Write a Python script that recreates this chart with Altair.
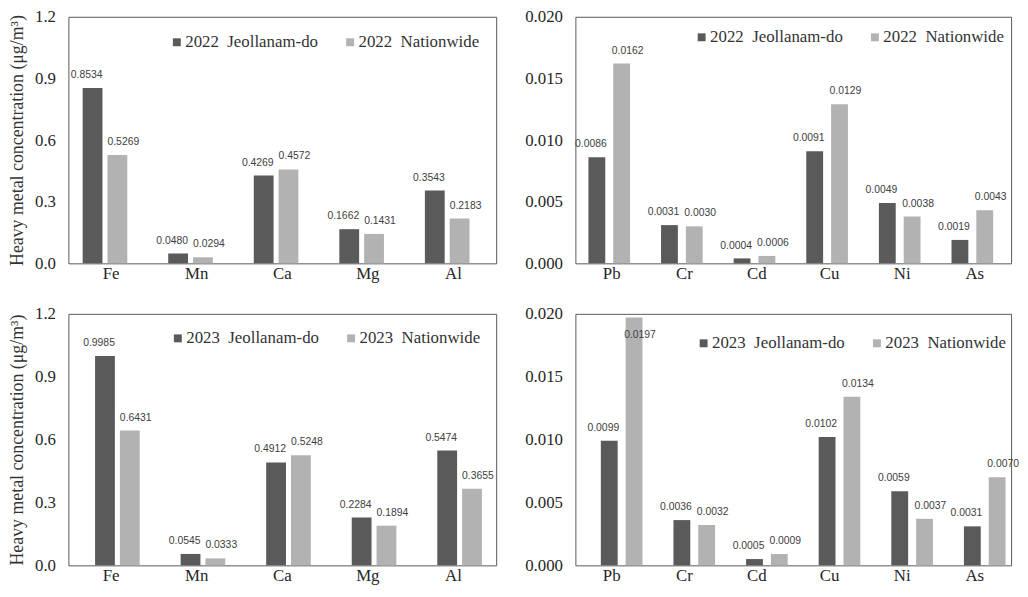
import altair as alt
import pandas as pd

# ---- data ----
major_metals = ["Fe", "Mn", "Ca", "Mg", "Al"]
trace_metals = ["Pb", "Cr", "Cd", "Cu", "Ni", "As"]

jeol_2022_major = [0.8534, 0.0480, 0.4269, 0.1662, 0.3543]
nat_2022_major = [0.5269, 0.0294, 0.4572, 0.1431, 0.2183]
jeol_2022_trace = [0.0086, 0.0031, 0.0004, 0.0091, 0.0049, 0.0019]
nat_2022_trace = [0.0162, 0.0030, 0.0006, 0.0129, 0.0038, 0.0043]

jeol_2023_major = [0.9985, 0.0545, 0.4912, 0.2284, 0.5474]
nat_2023_major = [0.6431, 0.0333, 0.5248, 0.1894, 0.3655]
jeol_2023_trace = [0.0099, 0.0036, 0.0005, 0.0102, 0.0059, 0.0031]
nat_2023_trace = [0.0197, 0.0032, 0.0009, 0.0134, 0.0037, 0.0070]

major_ticks = [0.0, 0.3, 0.6, 0.9, 1.2]
trace_ticks = [0.0, 0.005, 0.010, 0.015, 0.020]

y_title = "Heavy metal concentration (\u03bcg/m\u00b3)"

DARK = "#5a5a5a"
LIGHT = "#b2b2b2"
SERIF = "Liberation Serif"
SANS = "Liberation Sans"


def panel(cats, jeol, nat, year, ticks, fmt, width, height, bar_w, show_title, leg_x, leg_y):
    s1 = f"{year}\u00a0 Jeollanam-do"
    s2 = f"{year}\u00a0 Nationwide"
    n = len(cats)
    df = pd.DataFrame({
        "metal": cats * 2,
        "series": [s1] * n + [s2] * n,
        "grp": ["a"] * n + ["b"] * n,
        "value": jeol + nat,
    })
    ymax = ticks[-1]
    yscale = alt.Scale(domain=[0, ymax], nice=False)
    yaxis = alt.Axis(values=ticks, format=fmt)
    ytitle = y_title if show_title else None

    base = alt.Chart(df).encode(
        x=alt.X("metal:N", sort=cats, title=None,
                scale=alt.Scale(paddingInner=0.42, paddingOuter=0.21),
                axis=alt.Axis(labelAngle=0)),
        xOffset=alt.XOffset("series:N", sort=[s1, s2],
                            scale=alt.Scale(paddingInner=0, paddingOuter=0)),
    )

    bars = base.mark_bar(width=bar_w).encode(
        y=alt.Y("value:Q", scale=yscale, axis=yaxis, title=ytitle),
        color=alt.Color("series:N", sort=[s1, s2],
                        scale=alt.Scale(domain=[s1, s2], range=[DARK, LIGHT]),
                        legend=alt.Legend(orient="none", legendX=leg_x, legendY=leg_y,
                                          direction="horizontal", title=None,
                                          symbolType="square", symbolSize=64,
                                          symbolStrokeWidth=0,
                                          labelFont=SERIF, labelFontSize=17,
                                          labelColor="#333333", columnPadding=23,
                                          labelOffset=0)),
    )

    lab = base.transform_calculate(
        ly=f"datum.value > {0.95 * ymax} ? datum.value - {0.12 * ymax} : datum.value"
    )
    t_common = dict(font=SANS, fontSize=10.5, color="#404040", baseline="bottom", dy=-8)
    t1 = lab.transform_filter(alt.datum.grp == "a").mark_text(dx=-6, **t_common).encode(
        y=alt.Y("ly:Q", scale=yscale, axis=yaxis, title=ytitle),
        text=alt.Text("value:Q", format=".4f"),
    )
    t2 = lab.transform_filter(alt.datum.grp == "b").mark_text(dx=6, **t_common).encode(
        y=alt.Y("ly:Q", scale=yscale, axis=yaxis, title=ytitle),
        text=alt.Text("value:Q", format=".4f"),
    )
    return alt.layer(bars, t1, t2).properties(width=width, height=height)


W_L, W_R = 432, 440
H_TOP, H_BOT = 249, 254

tl = panel(major_metals, jeol_2022_major, nat_2022_major, 2022, major_ticks, ".1f",
           W_L, H_TOP, 20, True, 101, 17)
tr = panel(trace_metals, jeol_2022_trace, nat_2022_trace, 2022, trace_ticks, ".3f",
           W_R, H_TOP, 17, False, 119, 12)
bl = panel(major_metals, jeol_2023_major, nat_2023_major, 2023, major_ticks, ".1f",
           W_L, H_BOT, 20, True, 102, 16)
br = panel(trace_metals, jeol_2023_trace, nat_2023_trace, 2023, trace_ticks, ".3f",
           W_R, H_BOT, 17, False, 121, 21)

top = alt.hconcat(tl, tr, spacing=27).resolve_scale(color="independent")
bottom = alt.hconcat(bl, br, spacing=27).resolve_scale(color="independent")

chart = alt.vconcat(top, bottom, spacing=22).resolve_scale(color="independent").properties(
    padding={"top": -4, "left": 0, "right": 0, "bottom": 0}
).configure_view(
    stroke="#595959", strokeWidth=1
).configure_axis(
    domain=False, ticks=False, grid=False,
    labelFont=SERIF, labelFontSize=17, labelColor="#262626", labelPadding=13,
    titleFont=SERIF, titleFontSize=18, titleFontWeight="normal", titleColor="#333333",
    titlePadding=8,
).configure_axisX(labelPadding=2)

chart.save("out.html", embed_options={"renderer": "svg", "actions": False})
